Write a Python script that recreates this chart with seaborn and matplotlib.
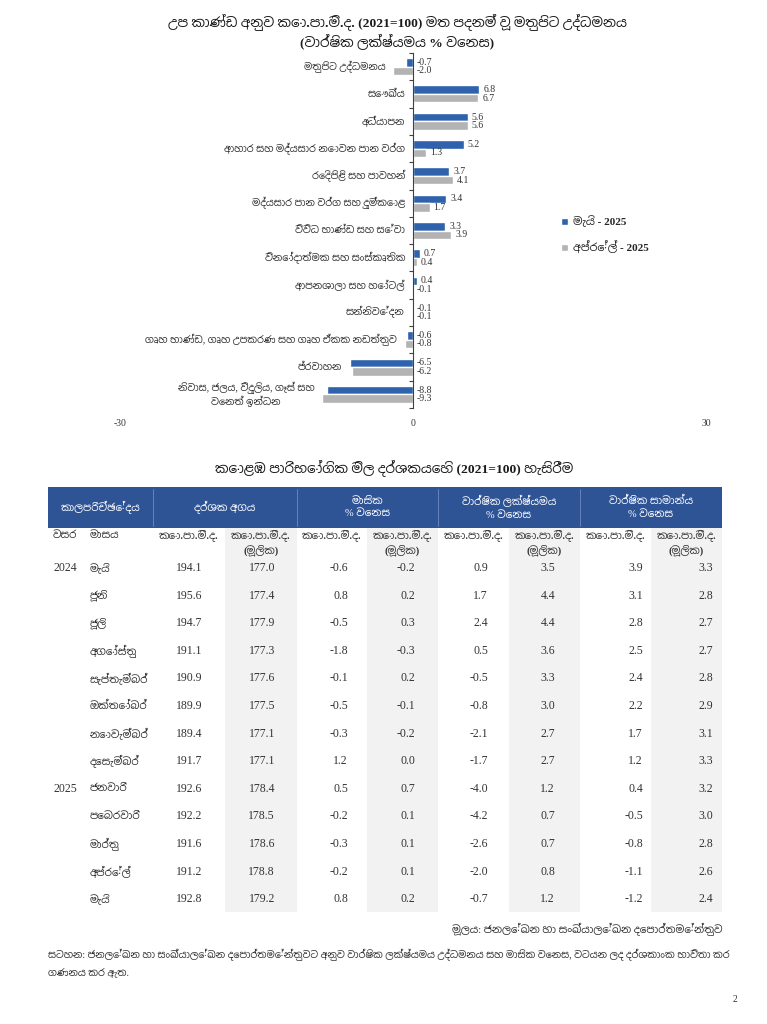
import numpy as np
import pandas as pd
import matplotlib
matplotlib.use("Agg")
import matplotlib.pyplot as plt
import matplotlib.transforms as mtransforms
from matplotlib import font_manager
from matplotlib.ft2font import FT2Font
from matplotlib.patches import Rectangle
import seaborn as sns

# ---- chart data ----
categories = [
    "මතුපිට උද්ධමනය",
    "සෞඛ්‍ය",
    "අධ්‍යාපන",
    "ආහාර සහ මද්‍යසාර නොවන පාන වර්ග",
    "රෙදිපිළි සහ පාවහන්",
    "මද්‍යසාර පාන වර්ග සහ දුම්කොළ",
    "විවිධ භාණ්ඩ සහ සේවා",
    "විනෝදාත්මක සහ සංස්කෘතික",
    "ආපනශාලා සහ හෝටල්",
    "සන්නිවේදන",
    "ගෘහ භාණ්ඩ, ගෘහ උපකරණ සහ ගෘහ ඒකක නඩත්තුව",
    "ප්‍රවාහන",
    "නිවාස, ජලය, විදුලිය, ගෑස් සහ\nවෙනත් ඉන්ධන",
]
may_2025 = [-0.7, 6.8, 5.6, 5.2, 3.7, 3.4, 3.3, 0.7, 0.4, -0.1, -0.6, -6.5, -8.8]
apr_2025 = [-2.0, 6.7, 5.6, 1.3, 4.1, 1.7, 3.9, 0.4, -0.1, -0.1, -0.8, -6.2, -9.3]
series_names = ["මැයි - 2025", "අප්‍රේල් - 2025"]
x_ticks = [-30, 0, 30]

chart_title = ("උප කාණ්ඩ අනුව කො.පා.මි.ද. (2021=100) මත පදනම් වූ මතුපිට උද්ධමනය\n"
               "(වාර්ෂික ලක්ෂ්‍යමය % වෙනස)")

# ---- table data ----
table_title = "කොළඹ පාරිභෝගික මිල දර්ශකයෙහි (2021=100) හැසිරීම"
group_headers = ["කාලපරිච්ඡේදය", "දර්ශක අගය", "මාසික\n% වෙනස",
                 "වාර්ෂික ලක්ෂ්‍යමය\n% වෙනස", "වාර්ෂික සාමාන්‍ය\n% වෙනස"]
sub_headers = ["වසර", "මාසය"] + ["කො.පා.මි.ද.", "කො.පා.මි.ද.\n(මූලික)"] * 4
years = ["2024", "", "", "", "", "", "", "", "2025", "", "", "", ""]
months = ["මැයි", "ජූනි", "ජූලි", "අගෝස්තු", "සැප්තැම්බර්", "ඔක්තෝබර්", "නොවැම්බර්",
          "දෙසැම්බර්", "ජනවාරි", "පෙබරවාරි", "මාර්තු", "අප්‍රේල්", "මැයි"]
ccpi = [194.1, 195.6, 194.7, 191.1, 190.9, 189.9, 189.4, 191.7, 192.6, 192.2, 191.6, 191.2, 192.8]
ccpi_core = [177.0, 177.4, 177.9, 177.3, 177.6, 177.5, 177.1, 177.1, 178.4, 178.5, 178.6, 178.8, 179.2]
mom = [-0.6, 0.8, -0.5, -1.8, -0.1, -0.5, -0.3, 1.2, 0.5, -0.2, -0.3, -0.2, 0.8]
mom_core = [-0.2, 0.2, 0.3, -0.3, 0.2, -0.1, -0.2, 0.0, 0.7, 0.1, 0.1, 0.1, 0.2]
yoy = [0.9, 1.7, 2.4, 0.5, -0.5, -0.8, -2.1, -1.7, -4.0, -4.2, -2.6, -2.0, -0.7]
yoy_core = [3.5, 4.4, 4.4, 3.6, 3.3, 3.0, 2.7, 2.7, 1.2, 0.7, 0.7, 0.8, 1.2]
avg = [3.9, 3.1, 2.8, 2.5, 2.4, 2.2, 1.7, 1.2, 0.4, -0.5, -0.8, -1.1, -1.2]
avg_core = [3.3, 2.8, 2.7, 2.7, 2.8, 2.9, 3.1, 3.3, 3.2, 3.0, 2.8, 2.6, 2.4]

source_text = "මූලය: ජනලේඛන හා සංඛ්‍යාලේඛන දෙපාර්තමේන්තුව"
note_text = ("සටහන: ජනලේඛන හා සංඛ්‍යාලේඛන දෙපාර්තමේන්තුවට අනුව වාර්ෂික ලක්ෂ්‍යමය උද්ධමනය සහ මාසික වෙනස, "
             "වටයන ලද දර්ශකාංක භාවිතා කර\nගණනය කර ඇත.")

BLUE = "#2E62AC"
GRAY = "#B3B3B3"
HEAD_BLUE = "#2F5496"
SHADE = "#F2F2F2"
TXT = "#333333"


def find_sinhala_font():
    found = []
    for f in font_manager.fontManager.ttflist:
        try:
            if 0x0D9A in FT2Font(f.fname).get_charmap():
                found.append(f.name)
        except Exception:
            pass
    if not found:
        return None

    def rank(name):
        n = name.lower()
        return (0 if "sinhala" in n else 1, 1 if "mono" in n else 0, 0 if "sans" in n else 1)
    return sorted(set(found), key=rank)[0]


def st(s):
    # matplotlib does no text shaping, the zero width joiner only shows up as a box
    return s.replace("\u200d", "")


sns.set_theme(style="white")
si_font = find_sinhala_font()
SI = ["Liberation Serif"] + ([si_font] if si_font else []) + ["DejaVu Sans"]
SERIF = ["Liberation Serif", "DejaVu Serif"]
plt.rcParams["font.family"] = SI

fig = plt.figure(figsize=(7.67, 10.24), dpi=100)

# page-level axes in pixel coordinates (table, titles, notes)
page = fig.add_axes([0, 0, 1, 1])
page.set_xlim(0, 767)
page.set_ylim(1024, 0)
page.axis("off")
page.patch.set_alpha(0)

# ---------------- bar chart ----------------
ax = fig.add_axes([120 / 767, 1 - 408 / 1024, 586 / 767, 355 / 1024])
df = pd.DataFrame({
    "category": categories * 2,
    "series": [st(series_names[0])] * len(categories) + [st(series_names[1])] * len(categories),
    "value": may_2025 + apr_2025,
})
sns.barplot(data=df, y="category", x="value", hue="series", orient="h",
            palette=[BLUE, GRAY], saturation=1, width=0.62, ax=ax)
ax.set_xlim(-30, 30)
ax.set_ylim(len(categories) - 0.5, -0.5)
ax.set_xlabel("")
ax.set_ylabel("")
ax.set_facecolor("none")
for s in ["top", "right", "bottom"]:
    ax.spines[s].set_visible(False)
ax.spines["left"].set_position(("data", 0))
ax.spines["left"].set_color("#404040")
ax.spines["left"].set_linewidth(0.8)
ax.set_yticks(range(len(categories)))
ax.set_yticklabels([""] * len(categories))
ax.set_yticks(np.arange(-0.5, len(categories), 1), minor=True)
ax.tick_params(axis="y", which="major", length=0)
ax.tick_params(axis="y", which="minor", left=True, length=3, width=0.8, color="#404040")
ax.set_xticks(x_ticks)
ax.set_xticklabels([str(t) for t in x_ticks], fontfamily=SERIF, fontsize=7, color=TXT)
ax.tick_params(axis="x", length=0, pad=8)

# category labels sit just left of the leftmost bar end
lab_tr = mtransforms.offset_copy(ax.transData, fig=fig, x=-8, y=0, units="dots")
for i, cat in enumerate(categories):
    x0 = min(0, may_2025[i], apr_2025[i])
    ax.text(x0, i, st(cat), transform=lab_tr, ha="right", va="center",
            multialignment="center", fontsize=7, color=TXT, family=SI)

# value labels
val_tr = mtransforms.offset_copy(ax.transData, fig=fig, x=4, y=0, units="dots")
for cont in ax.containers:
    for bar in cont:
        w = bar.get_width()
        yc = bar.get_y() + bar.get_height() / 2
        ax.text(max(w, 0), yc, f"{w:.1f}", transform=val_tr, ha="left", va="center",
                fontsize=7, color=TXT, family=SERIF)

handles, labels = ax.get_legend_handles_labels()
ax.legend(handles, labels, loc="upper left", bbox_to_anchor=(561 / 767, 1 - 216 / 1024),
          bbox_transform=fig.transFigure, frameon=False, borderpad=0, borderaxespad=0,
          handlelength=0.6, handleheight=0.6, handletextpad=0.5, labelspacing=1.2,
          prop={"family": SI, "size": 8, "weight": "bold"})

page.text(397, 31, st(chart_title), ha="center", va="center", fontsize=9.7, weight="bold",
          color="#1a1a1a", linespacing=1.25, family=SI)

# ---------------- table ----------------
page.text(394, 468, st(table_title), ha="center", va="center", fontsize=9.7, weight="bold",
          color="#1a1a1a", family=SI)

col_edges = [48, 85, 153, 225, 297, 367, 438, 509, 580, 651, 722]
value_right = [202, 275, 348, 415, 488, 555, 643, 713]
head_top, head_bot = 487, 528
row0, row_step = 568, 27.6
table_bottom = 912

page.add_patch(Rectangle((col_edges[0], head_top), col_edges[-1] - col_edges[0],
                         head_bot - head_top, facecolor=HEAD_BLUE, edgecolor="none"))
for k in (3, 5, 7, 9):
    page.add_patch(Rectangle((col_edges[k], head_bot), col_edges[k + 1] - col_edges[k],
                             table_bottom - head_bot, facecolor=SHADE, edgecolor="none"))

group_spans = [(48, 153), (153, 297), (297, 438), (438, 580), (580, 722)]
for (a, b), txt in zip(group_spans, group_headers):
    page.text((a + b) / 2, (head_top + head_bot) / 2, st(txt), ha="center", va="center",
              fontsize=7.5, color="white", linespacing=1.5, family=SI)
for a, _ in group_spans[1:]:
    page.plot([a, a], [head_top + 2, head_bot - 2], color="#6f8cc0", lw=0.6)

# sub header row
page.text(53, 535, st(sub_headers[0]), ha="left", va="center", fontsize=7.5, weight="bold", color=TXT)
page.text(90, 535, st(sub_headers[1]), ha="left", va="center", fontsize=7.5, weight="bold", color=TXT)
for j, txt in enumerate(sub_headers[2:]):
    cx = (col_edges[j + 2] + col_edges[j + 3]) / 2
    page.text(cx, 529, st(txt), ha="center", va="top", fontsize=7.5, weight="bold", color=TXT,
              linespacing=1.4, family=SI)

columns = [ccpi, ccpi_core, mom, mom_core, yoy, yoy_core, avg, avg_core]
for i in range(len(months)):
    y = row0 + i * row_step
    if years[i]:
        page.text(53, y, years[i], ha="left", va="center", fontsize=8.5, color=TXT, family=SERIF)
    page.text(90, y, st(months[i]), ha="left", va="center", fontsize=7.5, color=TXT, family=SI)
    for xr, col in zip(value_right, columns):
        page.text(xr, y, f"{col[i]:.1f}", ha="right", va="center", fontsize=8.5,
                  color=TXT, family=SERIF)

page.text(722, 929, st(source_text), ha="right", va="center", fontsize=7.5, color=TXT, family=SI)
page.text(48, 949, st(note_text), ha="left", va="top", fontsize=7, color=TXT,
          linespacing=1.9, family=SI)
page.text(735, 1000, "2", ha="center", va="center", fontsize=7, color=TXT, family=SERIF)

fig.savefig("out.png", dpi=100)
